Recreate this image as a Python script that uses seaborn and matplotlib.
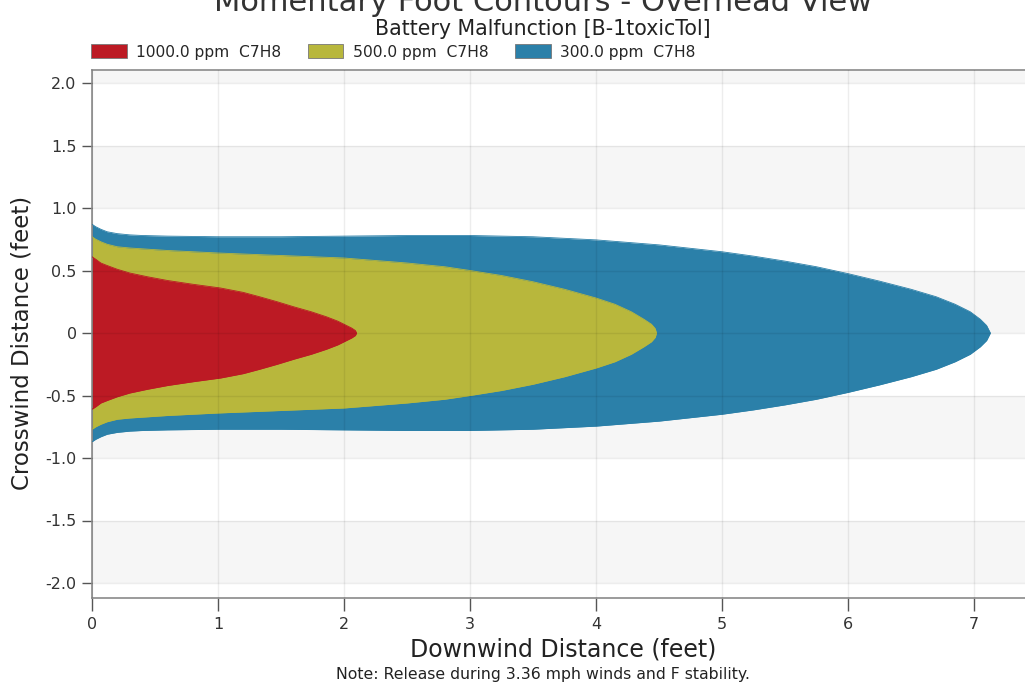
import numpy as np
import pandas as pd
import matplotlib
matplotlib.use("Agg")
import matplotlib.pyplot as plt
import seaborn as sns
from matplotlib.patches import Patch

# ---- data ----
title = "Momentary Foot Contours - Overhead View"
subtitle = "Battery Malfunction [B-1toxicTol]"
note = "Note: Release during 3.36 mph winds and F stability."
labels = ["1000.0 ppm  C7H8", "500.0 ppm  C7H8", "300.0 ppm  C7H8"]
colors = ["#BC1A24", "#B8B73C", "#2B80A9"]

# downwind distance (ft) and crosswind half-width (ft) of each contour
red_x = [0.0, 0.03, 0.07, 0.12, 0.2, 0.3, 0.44, 0.6, 0.8, 1.02, 1.2, 1.33, 1.47, 1.6, 1.74, 1.86, 1.95, 2.02, 2.06, 2.09, 2.1]
red_w = [0.61, 0.59, 0.56, 0.54, 0.51, 0.48, 0.45, 0.42, 0.39, 0.36, 0.325, 0.29, 0.25, 0.21, 0.17, 0.13, 0.095, 0.06, 0.04, 0.02, 0.0]
yel_x = [0.0, 0.03, 0.07, 0.12, 0.2, 0.3, 0.45, 0.6, 0.8, 1.0, 1.5, 2.0, 2.5, 2.8, 3.0, 3.25, 3.5, 3.75, 4.0, 4.15, 4.28, 4.38, 4.44, 4.47, 4.48]
yel_w = [0.77, 0.75, 0.73, 0.71, 0.69, 0.68, 0.67, 0.66, 0.65, 0.64, 0.62, 0.60, 0.56, 0.53, 0.50, 0.46, 0.41, 0.35, 0.28, 0.23, 0.17, 0.11, 0.07, 0.035, 0.0]
blu_x = [0.0, 0.03, 0.07, 0.12, 0.2, 0.3, 0.4, 0.6, 1.0, 1.5, 2.0, 2.5, 3.0, 3.5, 4.0, 4.5, 5.0, 5.25, 5.5, 5.75, 6.0, 6.25, 6.5, 6.7, 6.85, 6.97, 7.05, 7.1, 7.13]
blu_w = [0.87, 0.85, 0.83, 0.81, 0.795, 0.785, 0.78, 0.775, 0.77, 0.77, 0.775, 0.78, 0.78, 0.77, 0.745, 0.705, 0.65, 0.615, 0.575, 0.53, 0.475, 0.415, 0.35, 0.29, 0.23, 0.17, 0.11, 0.06, 0.0]

x_ticks = [0, 1, 2, 3, 4, 5, 6, 7]
y_ticks = [-2.0, -1.5, -1.0, -0.5, 0.0, 0.5, 1.0, 1.5, 2.0]
y_ticklabels = ["-2.0", "-1.5", "-1.0", "-0.5", "0", "0.5", "1.0", "1.5", "2.0"]

# ---- figure ----
sns.set_theme(style="white")
FONT = ["DejaVu Sans"]
plt.rcParams["font.family"] = FONT
plt.rcParams["font.sans-serif"] = FONT

W, H = 1025, 684
fig = plt.figure(figsize=(W / 100, H / 100), dpi=100)
ax = fig.add_axes([92 / W, 1 - 598 / H, (W - 92) / W, (598 - 70) / H])

xmin, xmax = 0.0, (W - 92) / 126.0
ymin, ymax = -2.12, 2.104
ax.set_xlim(xmin, xmax)
ax.set_ylim(ymin, ymax)

# alternating background bands
band = "#F6F6F6"
for lo in [2.0, 1.0, 0.0, -1.0, -2.0]:
    ax.axhspan(lo, lo + 0.5, color=band, zorder=0, lw=0)

# contours drawn largest first
series = [(blu_x, blu_w, colors[2]), (yel_x, yel_w, colors[1]), (red_x, red_w, colors[0])]
for xs, ws, c in series:
    xs = np.asarray(xs); ws = np.asarray(ws)
    ax.fill_between(xs, -ws, ws, color=c, lw=0, zorder=2)
    df = pd.DataFrame({"x": np.concatenate([xs, xs[::-1]]),
                       "y": np.concatenate([ws, -ws[::-1]])})
    sns.lineplot(data=df, x="x", y="y", sort=False, estimator=None,
                 color=c, lw=0.6, ax=ax, zorder=3)

# grid lines on top, faint
for xv in x_ticks:
    ax.axvline(xv, color="black", alpha=0.07, lw=1.0, zorder=4)
for yv in y_ticks:
    ax.axhline(yv, color="black", alpha=0.07, lw=1.0, zorder=4)

ax.set_xticks(x_ticks)
ax.set_xticklabels([str(v) for v in x_ticks], fontfamily=FONT)
ax.set_yticks(y_ticks)
ax.set_yticklabels(y_ticklabels, fontfamily=FONT)
ax.tick_params(axis="both", which="major", direction="out", length=7, width=1,
               color="#555555", labelcolor="#333333", labelsize=11.5, pad=4,
               left=True, bottom=True)
ax.tick_params(axis="x", length=9, pad=5)

for s in ["left", "bottom", "top"]:
    ax.spines[s].set_visible(True)
    ax.spines[s].set_color("#8A8A8A")
    ax.spines[s].set_linewidth(1.2)
ax.spines["right"].set_visible(False)

ax.set_xlabel("")
ax.set_ylabel("Crosswind Distance (feet)", fontsize=16.5, color="#222222",
              fontfamily=FONT, va="center")
ax.yaxis.set_label_coords((22 - 92) / (W - 92), (598 - 343) / 528)
fig.text(563 / W, 1 - 650 / H, "Downwind Distance (feet)", fontsize=17,
         color="#222222", ha="center", va="center", fontfamily=FONT)

fig.text(543 / W, 1 - 11 / H, title, fontsize=22, color="#333333",
         ha="center", va="baseline", fontfamily=FONT)
fig.text(543 / W, 1 - 29 / H, subtitle, fontsize=14.8, color="#222222",
         ha="center", va="center", fontfamily=FONT)
fig.text(543 / W, 1 - 675 / H, note, fontsize=11.3, color="#222222",
         ha="center", va="center", fontfamily=FONT)

handles = [Patch(facecolor=c, edgecolor="#777777", lw=0.6) for c in colors]
fig.legend(handles, labels, loc="center left", bbox_to_anchor=(91 / W, 1 - 52 / H),
           ncol=3, frameon=False, prop={"family": FONT, "size": 11.2},
           handlelength=2.3, handleheight=0.95,
           handletextpad=0.6, columnspacing=1.7, borderaxespad=0, borderpad=0)

fig.savefig("out.png", dpi=100)
